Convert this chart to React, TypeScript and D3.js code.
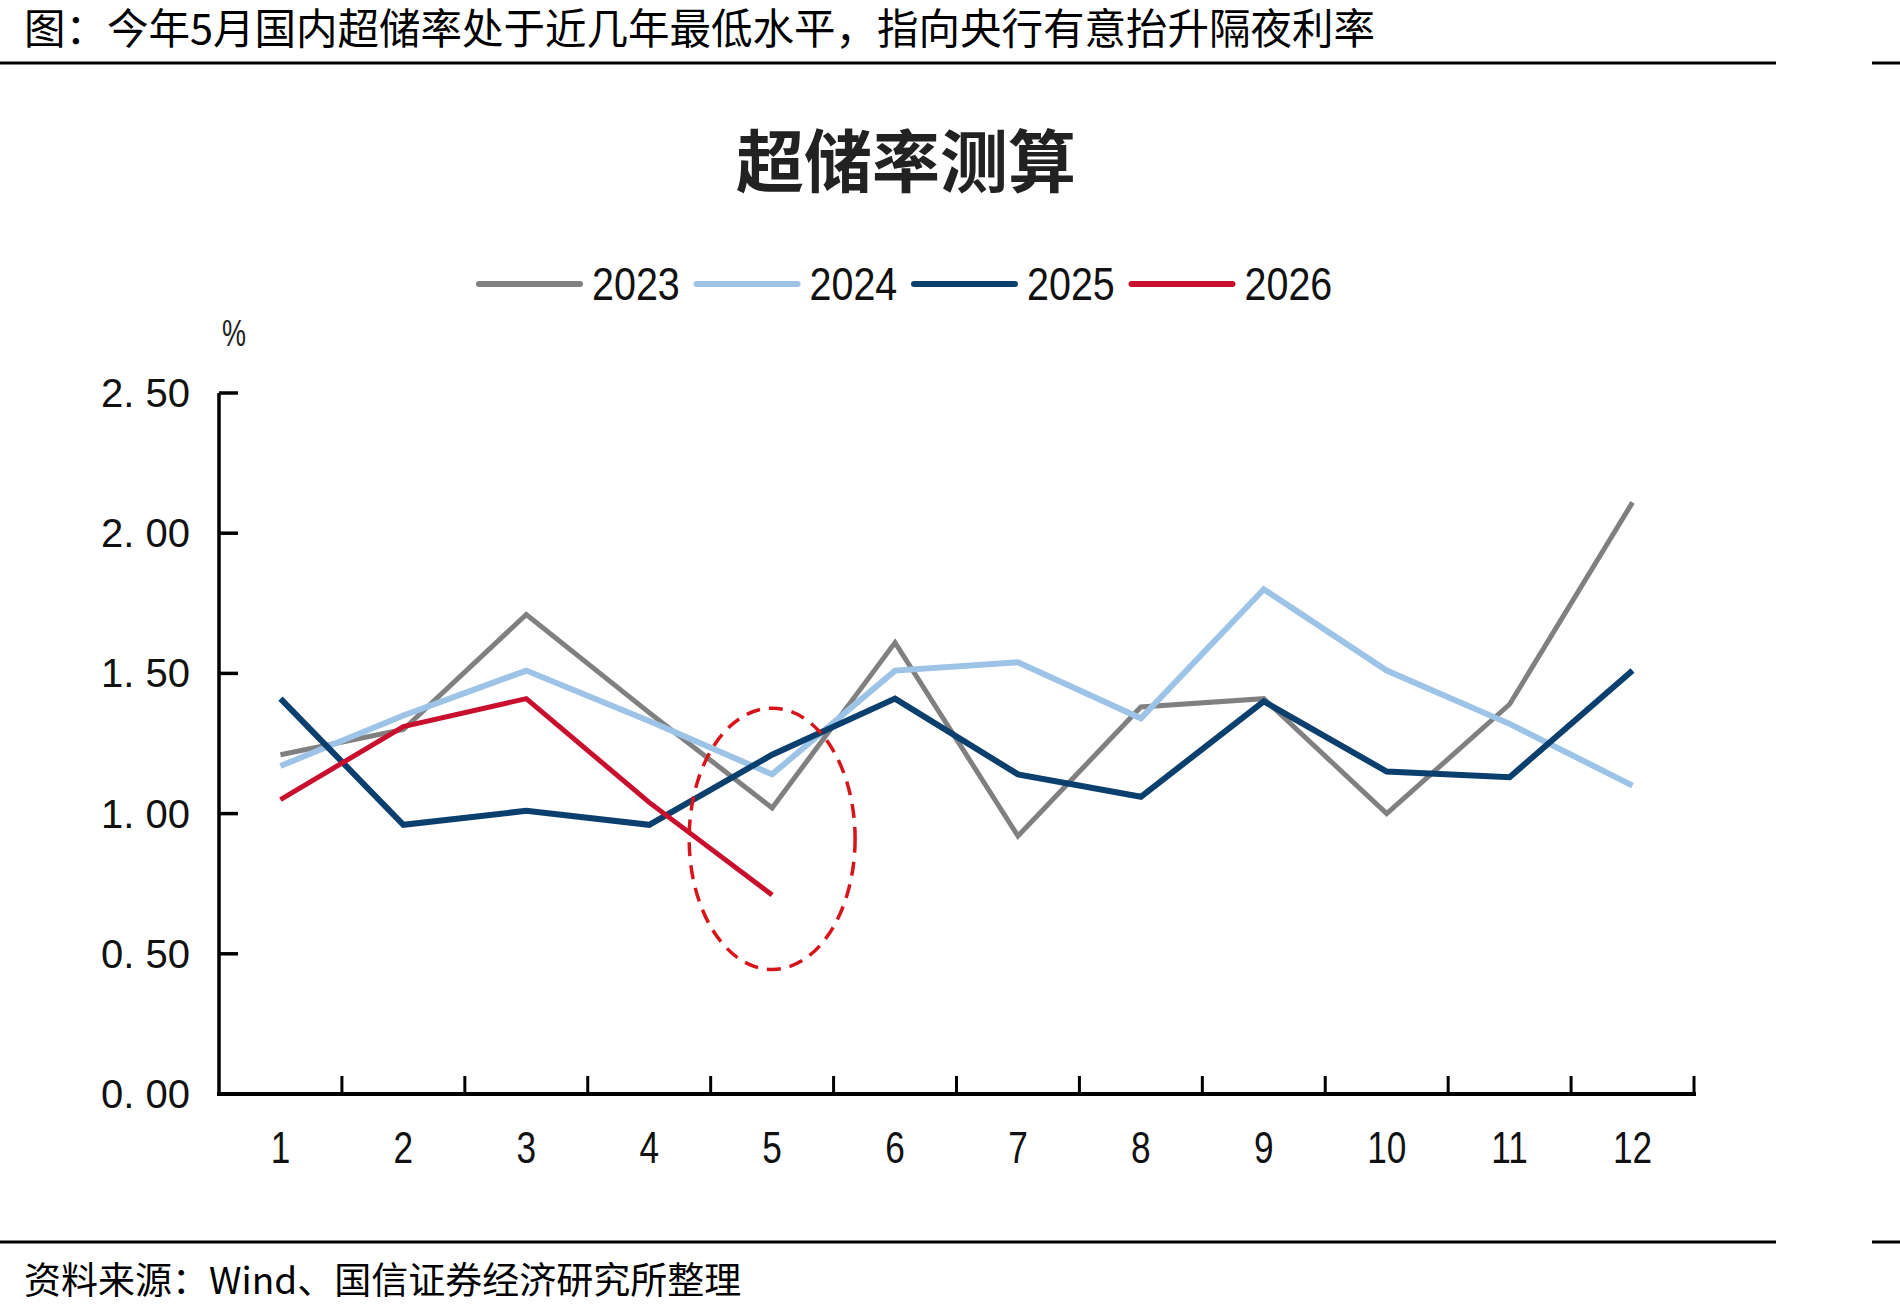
import React from 'react';
import * as d3 from 'd3';

// months on the x axis
const months = ['1', '2', '3', '4', '5', '6', '7', '8', '9', '10', '11', '12'];

// excess reserve ratio, %
const y2023 = [1.21, 1.30, 1.71, 1.36, 1.02, 1.61, 0.92, 1.38, 1.41, 1.00, 1.39, 2.11];
const y2024 = [1.17, 1.35, 1.51, 1.33, 1.14, 1.51, 1.54, 1.34, 1.80, 1.51, 1.32, 1.10];
const y2025 = [1.41, 0.96, 1.01, 0.96, 1.21, 1.41, 1.14, 1.06, 1.40, 1.15, 1.13, 1.51];
const y2026 = [1.05, 1.31, 1.41, 1.04, 0.71];

const seriesNames = ['2023', '2024', '2025', '2026'];
const seriesColors = ['#808080', '#9dc3e6', '#0b3f6e', '#c8102e'];
const seriesWidths = [5, 6, 6, 5];

const yTicks = [0, 0.5, 1, 1.5, 2, 2.5];
const yTickLabels = ['0. 00', '0. 50', '1. 00', '1. 50', '2. 00', '2. 50'];

// dashed ellipse around May
const markMonth = '5';
const markValue = 0.91;
const markHalfHeight = 0.466;

const headerText = '图：今年5月国内超储率处于近几年最低水平，指向央行有意抬升隔夜利率';
const sourceText = '资料来源：Wind、国信证券经济研究所整理';
const chartTitle = '超储率测算';

const cjk = '"Noto Sans CJK SC", "Noto Sans", sans-serif';
const sans = '"Liberation Sans", Arial, sans-serif';

// squeeze text horizontally, the source uses a condensed face
const squeeze = (px: number, py: number, k: number) => `translate(${px},${py}) scale(${k},1)`;

const App = () => {
  const W = 1900;
  const H = 1315;
  const left = 219;
  const right = 1694;
  const top = 393;
  const bottom = 1094;

  const x = d3.scaleBand<string>().domain(months).range([left, right]);
  const bw = x.bandwidth();
  const cx = (m: string) => (x(m) as number) + bw / 2;
  const y = d3.scaleLinear().domain([0, 2.5]).range([bottom, top]);

  const line = d3.line<number>()
    .x((d, i) => cx(months[i]))
    .y(d => y(d));

  const allSeries = [y2023, y2024, y2025, y2026];

  const boundaries = months.map(m => (x(m) as number) + bw);

  const legendStart = 479;
  const legendStep = 217.5;

  return (
    <svg width={W} height={H} style={{ position: 'absolute', left: 0, top: 0, background: '#fff' }}>
      <text x={24} y={44} fontFamily={cjk} fontSize={41.5} fill="#000">{headerText}</text>
      <line x1={0} x2={1776} y1={63} y2={63} stroke="#000" strokeWidth={3} />
      <line x1={1872} x2={1900} y1={63} y2={63} stroke="#000" strokeWidth={3} />

      <text x={906} y={187} textAnchor="middle" fontFamily={cjk} fontSize={68} fontWeight="bold" fill="#222">{chartTitle}</text>

      {seriesNames.map((name, i) => {
        const lx = legendStart + i * legendStep;
        return (
          <g key={name}>
            <line x1={lx} x2={lx + 101} y1={284} y2={284} stroke={seriesColors[i]} strokeWidth={6} strokeLinecap="round" />
            <text transform={squeeze(lx + 113, 284, 0.84)} dominantBaseline="central" fontFamily={sans} fontSize={47} fill="#111">{name}</text>
          </g>
        );
      })}

      <text transform={squeeze(234, 334, 0.75)} textAnchor="middle" dominantBaseline="central" fontFamily={sans} fontSize={36} fill="#222">%</text>

      {/* y axis */}
      <line x1={left} x2={left} y1={top} y2={bottom + 2} stroke="#000" strokeWidth={3.5} />
      {yTicks.map((t, i) => (
        <g key={t}>
          {t > 0 && <line x1={left} x2={left + 19} y1={y(t)} y2={y(t)} stroke="#000" strokeWidth={3.5} />}
          <text x={190} y={y(t)} textAnchor="end" dominantBaseline="central" fontFamily={sans} fontSize={40} fill="#111">{yTickLabels[i]}</text>
        </g>
      ))}

      {/* x axis */}
      <line x1={left - 2} x2={right + 2} y1={bottom} y2={bottom} stroke="#000" strokeWidth={4} />
      {boundaries.map((bx, i) => (
        <line key={i} x1={bx} x2={bx} y1={bottom} y2={bottom - 18} stroke="#000" strokeWidth={3} />
      ))}
      {months.map(m => (
        <text key={m} transform={squeeze(cx(m), 1148, 0.8)} textAnchor="middle" dominantBaseline="central" fontFamily={sans} fontSize={44} fill="#111">{m}</text>
      ))}

      {allSeries.map((s, i) => (
        <path key={i} d={line(s) as string} fill="none" stroke={seriesColors[i]} strokeWidth={seriesWidths[i]} />
      ))}

      <ellipse
        cx={cx(markMonth)}
        cy={y(markValue)}
        rx={bw * 0.675}
        ry={y(markValue - markHalfHeight) - y(markValue)}
        fill="none"
        stroke="#d7141a"
        strokeWidth={3.5}
        strokeDasharray="14 9"
      />

      <line x1={0} x2={1776} y1={1242} y2={1242} stroke="#000" strokeWidth={3} />
      <line x1={1872} x2={1900} y1={1242} y2={1242} stroke="#000" strokeWidth={3} />
      <text x={24} y={1294} fontFamily={cjk} fontSize={37} fill="#000">{sourceText}</text>
    </svg>
  );
};

export default App;
